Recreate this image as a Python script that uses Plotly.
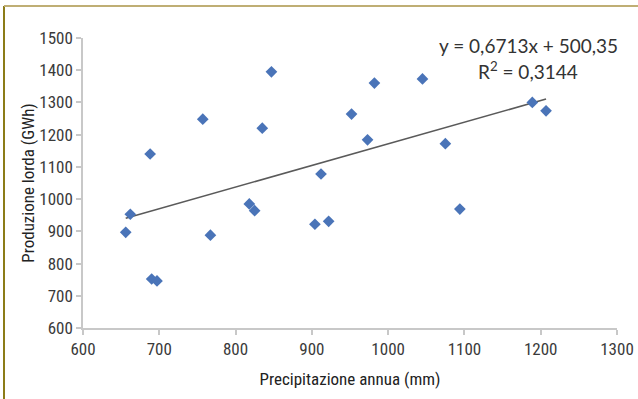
import plotly.graph_objects as go

precip_mm = [656, 662, 688, 690, 697, 757, 767, 818, 825, 835, 847, 904, 912, 922,
             952, 973, 982, 1045, 1075, 1094, 1189, 1207]
prod_gwh = [897, 953, 1140, 752, 746, 1248, 888, 985, 964, 1220, 1395, 922, 1078, 931,
            1264, 1184, 1360, 1373, 1172, 969, 1300, 1274]

slope = 0.6713
intercept = 500.35
eq_line1 = "y = 0,6713x + 500,35"
eq_line2 = "R<sup>2</sup> = 0,3144"

x_ticks = [600, 700, 800, 900, 1000, 1100, 1200, 1300]
y_ticks = [600, 700, 800, 900, 1000, 1100, 1200, 1300, 1400, 1500]

x_title = "Precipitazione annua (mm)"
y_title = "Produzione lorda (GWh)"

trend_x = [min(precip_mm), max(precip_mm)]
trend_y = [slope * v + intercept for v in trend_x]

cond_font = ("Liberation Sans Narrow, Noto Sans Condensed, Roboto Condensed, "
             "DejaVu Sans Condensed, sans-serif")

# plot-area pixel box
pl, pr, pt, pb = 83, 617, 38, 328
W, H = 638, 399


def px_to_x(px):
    return (px - pl) / (pr - pl)


def py_to_y(py):
    return (pb - py) / (pb - pt)


fig = go.Figure()
fig.add_trace(go.Scatter(
    x=trend_x, y=trend_y, mode="lines",
    line=dict(color="#5a5a5a", width=1.6),
    hoverinfo="skip", showlegend=False))
fig.add_trace(go.Scatter(
    x=precip_mm, y=prod_gwh, mode="markers",
    marker=dict(symbol="diamond", size=9, color="#4a74b8"),
    showlegend=False))

axis_common = dict(
    showgrid=False, zeroline=False, showline=True, automargin=False,
    linecolor="#c8c8c8", linewidth=1.5,
    ticks="outside", ticklen=5, tickcolor="#c8c8c8", tickwidth=1.5,
    tickfont=dict(family=cond_font, size=17, color="#3a3a3a"),
    title_font=dict(family=cond_font, size=17, color="#222222"),
)

eq_font = dict(family="Lato, Open Sans, sans-serif", size=19, color="#333333")

fig.update_layout(
    width=W, height=H,
    margin=dict(l=pl, r=W - pr, t=pt, b=H - pb, autoexpand=False),
    paper_bgcolor="white", plot_bgcolor="white",
    xaxis=dict(range=[600, 1300], tickvals=x_ticks,
               title=dict(text=x_title, standoff=15), **axis_common),
    yaxis=dict(range=[600, 1500], tickvals=y_ticks,
               title=dict(text=y_title, standoff=0), **axis_common),
    annotations=[
        dict(x=px_to_x(528), y=py_to_y(45), xref="paper", yref="paper",
             text=eq_line1, showarrow=False, font=eq_font,
             xanchor="center", yanchor="middle"),
        dict(x=px_to_x(528), y=py_to_y(70), xref="paper", yref="paper",
             text=eq_line2, showarrow=False, font=eq_font,
             xanchor="center", yanchor="middle"),
    ],
    shapes=[
        dict(type="line", xref="paper", yref="paper",
             x0=px_to_x(4), x1=px_to_x(4), y0=py_to_y(6), y1=py_to_y(H),
             line=dict(color="#8c7c18", width=2)),
        dict(type="line", xref="paper", yref="paper",
             x0=px_to_x(4), x1=px_to_x(W), y0=py_to_y(6), y1=py_to_y(6),
             line=dict(color="#bfae74", width=2)),
    ],
)

fig.write_html("out.html",
               config={"displayModeBar": False},
               post_script="document.body.style.margin='0px';"
                           "document.body.style.overflow='hidden';")
